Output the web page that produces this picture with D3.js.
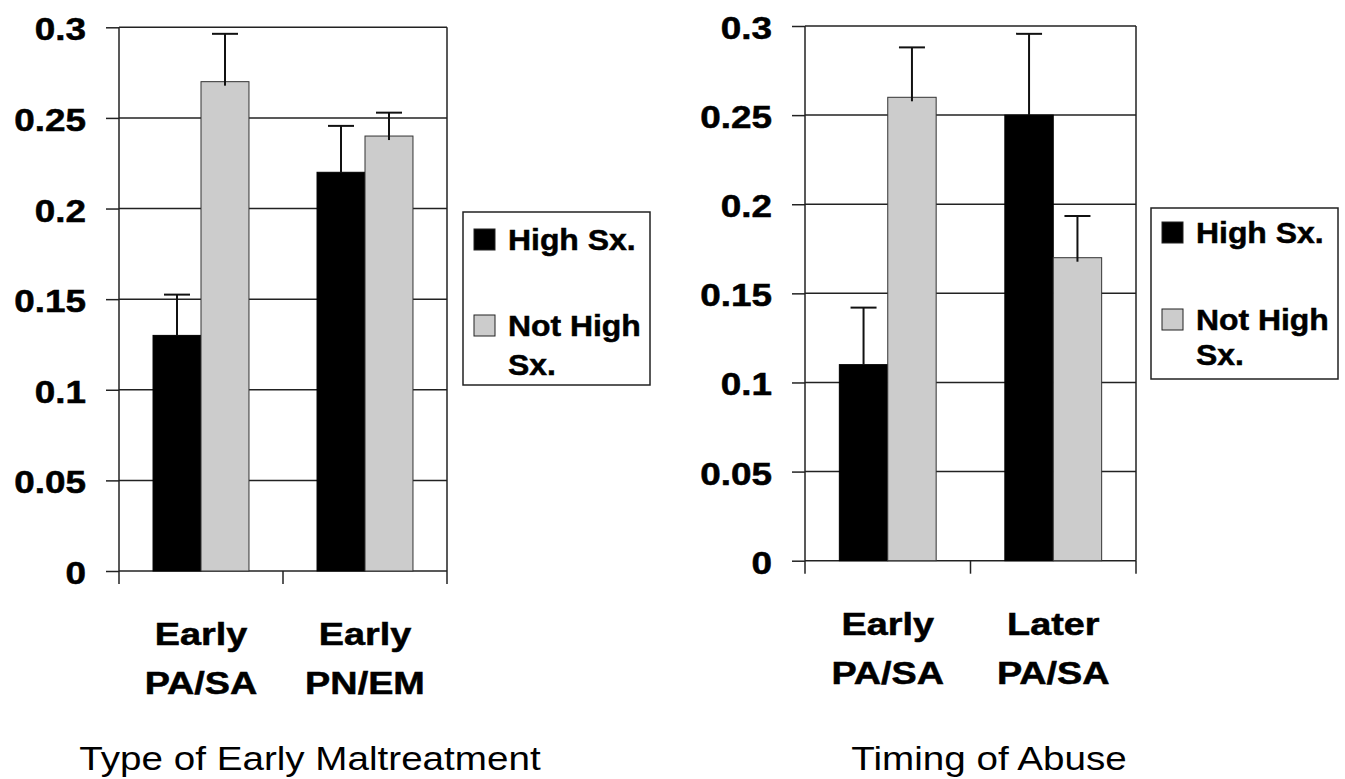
<!DOCTYPE html>
<html>
<head>
<meta charset="utf-8">
<script src="https://cdn.jsdelivr.net/npm/d3@7/dist/d3.min.js"></script>
<style>
  html, body { margin: 0; padding: 0; background: #fff; }
  svg { display: block; }
  text { font-family: Arial, "Liberation Sans", Helvetica, sans-serif; fill: #000; }
</style>
</head>
<body>
<svg id="chart" width="1345" height="779"></svg>
<script>
// ---------- DATA ----------
const seriesNames = ["High Sx.", "Not High Sx."];
const seriesLegendLines = [["High Sx."], ["Not High", "Sx."]];
const tickValues = [0, 0.05, 0.1, 0.15, 0.2, 0.25, 0.3];
const tickLabels = ["0", "0.05", "0.1", "0.15", "0.2", "0.25", "0.3"];

// Left panel: Type of Early Maltreatment
const leftTitle = "Type of Early Maltreatment";
const leftCategories = [["Early", "PA/SA"], ["Early", "PN/EM"]];
const leftHigh = [0.13, 0.22];
const leftHighErr = [0.0225, 0.0256];
const leftNotHigh = [0.27, 0.24];
const leftNotHighErr = [0.0264, 0.0129];

// Right panel: Timing of Abuse
const rightTitle = "Timing of Abuse";
const rightCategories = [["Early", "PA/SA"], ["Later", "PA/SA"]];
const rightHigh = [0.11, 0.25];
const rightHighErr = [0.032, 0.0456];
const rightNotHigh = [0.26, 0.17];
const rightNotHighErr = [0.028, 0.0234];

// ---------- STYLE ----------
const colors = ["#000000", "#cccccc"];
const svg = d3.select("#chart");

function stretchedText(g, x, y, str, size, weight, anchor, sx) {
  const t = g.append("text")
    .attr("transform", `translate(${x},${y}) scale(${sx},1)`)
    .attr("text-anchor", anchor)
    .style("font-size", size + "px")
    .style("font-weight", weight)
    .text(str);
  if (weight === "bold") t.attr("stroke", "#000").attr("stroke-width", 0.5);
  return t;
}

function panel(cfg) {
  const g = svg.append("g");
  const y = d3.scaleLinear().domain([0, 0.3]).range([cfg.y1, cfg.y0]);
  const catIdx = d3.range(cfg.categories.length);
  const x0 = d3.scaleBand().domain(catIdx).range([cfg.x0, cfg.x1]).paddingInner(0.415).paddingOuter(0.2075);
  const x1 = d3.scaleBand().domain([0, 1]).range([0, x0.bandwidth()]);
  const outer = d3.scaleBand().domain(catIdx).range([cfg.x0, cfg.x1]);

  // gridlines
  g.selectAll("line.grid").data(tickValues).join("line")
    .attr("x1", cfg.x0).attr("x2", cfg.x1)
    .attr("y1", d => y(d)).attr("y2", d => y(d))
    .attr("stroke", "#222").attr("stroke-width", 1.5);

  // y axis ticks
  const yAxis = d3.axisLeft(y).tickValues(tickValues).tickSize(13).tickFormat("").tickSizeOuter(0);
  const ya = g.append("g").attr("transform", `translate(${cfg.x0},0)`).call(yAxis);
  ya.selectAll("path,line").attr("stroke", "#222").attr("stroke-width", 1.5);
  ya.select("path").attr("d", `M0,${cfg.y0}V${cfg.y1}`);

  // right border
  g.append("line").attr("x1", cfg.x1).attr("x2", cfg.x1).attr("y1", cfg.y0).attr("y2", cfg.y1)
    .attr("stroke", "#222").attr("stroke-width", 1.5);

  // x ticks at category boundaries
  const bounds = catIdx.map(i => outer(i)).concat([cfg.x1]);
  g.selectAll("line.xt").data(bounds).join("line")
    .attr("x1", d => d).attr("x2", d => d)
    .attr("y1", cfg.y1).attr("y2", cfg.y1 + 13)
    .attr("stroke", "#222").attr("stroke-width", 1.5);

  // y tick labels
  tickValues.forEach((v, i) => {
    stretchedText(g, cfg.x0 - 33, y(v) + 13, tickLabels[i], 30.5, "bold", "end", 1.21);
  });

  // bars
  const series = [
    { vals: cfg.high, errs: cfg.highErr, s: 0 },
    { vals: cfg.notHigh, errs: cfg.notHighErr, s: 1 }
  ];
  series.forEach(ser => {
    catIdx.forEach(i => {
      const bx = x0(i) + x1(ser.s);
      const bw = x1.bandwidth();
      g.append("rect")
        .attr("x", bx).attr("y", y(ser.vals[i]))
        .attr("width", bw).attr("height", y(0) - y(ser.vals[i]))
        .attr("fill", colors[ser.s])
        .attr("stroke", ser.s === 0 ? "#000" : "#333").attr("stroke-width", 1);
      const cx = bx + bw / 2;
      const top = y(ser.vals[i] + ser.errs[i]);
      g.append("line").attr("x1", cx).attr("x2", cx)
        .attr("y1", y(ser.vals[i]) + (ser.s === 1 ? 4 : 0)).attr("y2", top)
        .attr("stroke", "#111").attr("stroke-width", 2);
      g.append("line").attr("x1", cx - 13).attr("x2", cx + 13)
        .attr("y1", top).attr("y2", top)
        .attr("stroke", "#111").attr("stroke-width", 2);
    });
  });

  // category labels
  catIdx.forEach(i => {
    const cx = outer(i) + outer.bandwidth() / 2;
    cfg.categories[i].forEach((line, j) => {
      stretchedText(g, cx, cfg.catBase + j * 49, line, 30.5, "bold", "middle", 1.24);
    });
  });

  // axis title
  stretchedText(g, cfg.titleX, cfg.titleBase, cfg.title, 33, "normal", "middle", 1.17);

  // legend
  const L = cfg.legend;
  g.append("rect").attr("x", L.x).attr("y", L.y).attr("width", L.w).attr("height", L.h)
    .attr("fill", "#fff").attr("stroke", "#222").attr("stroke-width", 1.5);
  seriesNames.forEach((name, s) => {
    const base = L.bases[s][0];
    g.append("rect").attr("x", L.x + 11).attr("y", base - 21).attr("width", 21).attr("height", 21)
      .attr("fill", colors[s]).attr("stroke", "#222").attr("stroke-width", 1);
    seriesLegendLines[s].forEach((line, j) => {
      stretchedText(g, L.x + 45, L.bases[s][j], line, 29, "bold", "start", 1.1);
    });
  });
}

panel({
  x0: 119, x1: 447, y0: 27.3, y1: 571,
  categories: leftCategories,
  high: leftHigh, highErr: leftHighErr, notHigh: leftNotHigh, notHighErr: leftNotHighErr,
  catBase: 645, title: leftTitle, titleX: 310, titleBase: 770,
  legend: { x: 463, y: 212, w: 187, h: 173, bases: [[250], [336, 375]] }
});

panel({
  x0: 805, x1: 1136, y0: 26, y1: 560.7,
  categories: rightCategories,
  high: rightHigh, highErr: rightHighErr, notHigh: rightNotHigh, notHighErr: rightNotHighErr,
  catBase: 635, title: rightTitle, titleX: 989, titleBase: 770,
  legend: { x: 1151, y: 208, w: 187, h: 171, bases: [[243], [330, 365]] }
});
</script>
</body>
</html>
